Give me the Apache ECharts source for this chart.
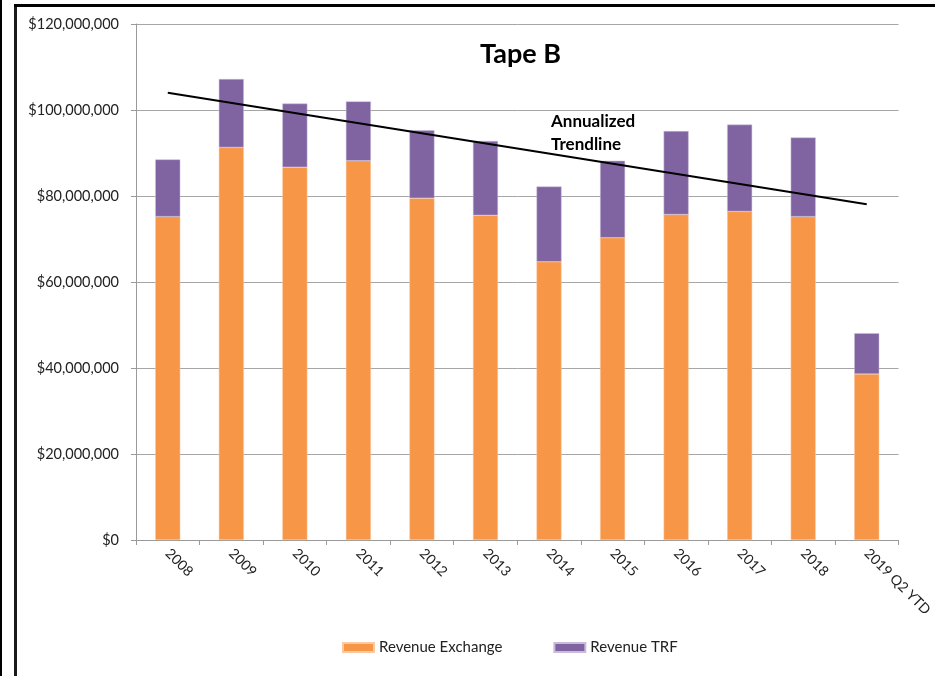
<!DOCTYPE html>
<html>
<head>
<meta charset="utf-8">
<script src="https://cdn.jsdelivr.net/npm/echarts@6/dist/echarts.min.js"></script>
<style>
html,body{margin:0;padding:0;background:#fff;}
#Charts1{width:935px;height:676px;}
</style>
</head>
<body>
<div id="Charts1"></div>
<script>
// data (millions of $)
var years = ['2008','2009','2010','2011','2012','2013','2014','2015','2016','2017','2018','2019 Q2 YTD'];
var revExchange = [75.2, 91.3, 86.7, 88.2, 79.5, 75.5, 64.7, 70.3, 75.7, 76.4, 75.2, 38.6];
var revTRF = [13.3, 15.9, 14.8, 13.8, 15.8, 17.3, 17.5, 17.9, 19.4, 20.2, 18.4, 9.5];
// trendline endpoints (2008 and 2019)
var trend = [104.0, null, null, null, null, null, null, null, null, null, null, 78.1];
var yTicks = [0, 20, 40, 60, 80, 100, 120];

function toDollars(list){
	var out = [];
	for(var i=0;i<list.length;i++){
		out[i] = list[i]==null ? null : Math.round(list[i]*1000000);
	}
	return out;
}

var myChart = echarts.init(document.getElementById('Charts1'));
var fnt = 'Lato, "Open Sans", sans-serif';

var option = {
	animation:false,
	backgroundColor:'#fff',
	title:{
		text:'Tape B',
		left:475, top:36,
		textStyle:{fontFamily:fnt, fontSize:27, fontWeight:'bold', color:'#000'}
	},
	legend:{
		bottom:16, left:337,
		itemWidth:31, itemHeight:9, itemGap:51,
		icon:'rect',
		textStyle:{fontFamily:fnt, fontSize:15, color:'#222'},
		data:['Revenue Exchange','Revenue TRF']
	},
	grid:{left:136, right:35, top:24, bottom:136},
	xAxis:{
		type:'category',
		data:years,
		axisLine:{lineStyle:{color:'#9a9a9a', width:1}},
		axisTick:{show:true, length:5, lineStyle:{color:'#9a9a9a'}},
		axisLabel:{rotate:-45, margin:11, interval:0, fontFamily:fnt, fontSize:14, color:'#222'}
	},
	yAxis:{
		type:'value',
		min:yTicks[0]*1000000,
		max:yTicks[yTicks.length-1]*1000000,
		interval:20000000,
		axisLine:{show:true, lineStyle:{color:'#9a9a9a', width:1}},
		axisTick:{show:true, length:5, lineStyle:{color:'#9a9a9a'}},
		splitLine:{lineStyle:{color:'#a6a6a6', width:1}},
		axisLabel:{
			margin:17, fontFamily:fnt, fontSize:14.5, color:'#222',
			formatter:function(v){ return '$'+echarts.format.addCommas(v); }
		}
	},
	series:[
		{
			name:'Revenue Exchange', type:'bar', stack:'rev',
			barWidth:25,
			itemStyle:{color:'#F79646', borderColor:'#fbc9a3', borderWidth:0.5},
			data:toDollars(revExchange)
		},
		{
			name:'Revenue TRF', type:'bar', stack:'rev',
			barWidth:25,
			itemStyle:{color:'#8064A2', borderColor:'#c9bcd9', borderWidth:0.5},
			data:toDollars(revTRF)
		},
		{
			name:'Trendline', type:'line',
			data:toDollars(trend),
			connectNulls:true,
			showSymbol:false, symbol:'none',
			lineStyle:{color:'#000', width:2},
			z:5
		}
	],
	graphic:[
		// outer frame bits
		{type:'rect', shape:{x:0, y:0, width:2, height:676}, style:{fill:'#000'}},
		{type:'rect', shape:{x:14, y:4, width:3, height:672}, style:{fill:'#1a1a1a'}},
		{type:'rect', shape:{x:14, y:4, width:921, height:3}, style:{fill:'#000'}},
		{
			type:'text', left:551, top:110,
			style:{text:'Annualized\nTrendline', font:'bold 17px '+fnt, fill:'#000', lineHeight:23}
		}
	]
};
myChart.setOption(option);
</script>
</body>
</html>
